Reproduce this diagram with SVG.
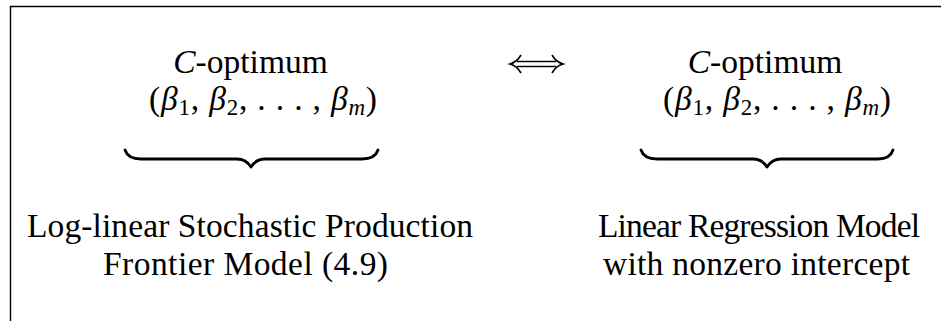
<svg xmlns="http://www.w3.org/2000/svg" width="941" height="321" viewBox="0 0 941 321">
<style>
.t{font-family:'Liberation Serif','DejaVu Serif',serif;font-size:33.5px;fill:#000}
.i{font-style:italic}
.s{font-size:23px}
.br{fill:none;stroke:#000;stroke-width:2.8;stroke-linecap:round;stroke-linejoin:round}
.ar{fill:none;stroke:#000;stroke-width:1.6}
</style>
<rect width="941" height="321" fill="#fff"/>
<path d="M10.5,321 V6.5 H941" fill="none" stroke="#000" stroke-width="1.4"/>
<g id="left-top">
<text class="t" x="250.5" y="73" text-anchor="middle"><tspan class="i">C</tspan>-optimum</text>
<text class="t" x="263" y="110" text-anchor="middle" textLength="228">(<tspan class="i">β</tspan><tspan class="s" dy="5">1</tspan><tspan dy="-5">, </tspan><tspan class="i">β</tspan><tspan class="s" dy="5">2</tspan><tspan dy="-5">, . . . , </tspan><tspan class="i">β</tspan><tspan class="s i" dy="5">m</tspan><tspan dy="-5">)</tspan></text>
</g>
<g id="right-top">
<text class="t" x="765" y="73" text-anchor="middle"><tspan class="i">C</tspan>-optimum</text>
<text class="t" x="777" y="110" text-anchor="middle" textLength="228">(<tspan class="i">β</tspan><tspan class="s" dy="5">1</tspan><tspan dy="-5">, </tspan><tspan class="i">β</tspan><tspan class="s" dy="5">2</tspan><tspan dy="-5">, . . . , </tspan><tspan class="i">β</tspan><tspan class="s i" dy="5">m</tspan><tspan dy="-5">)</tspan></text>
</g>
<g id="left-bottom">
<path class="br" d="M125,150 Q128,159 141,159 H237 Q246,159 251,167 Q256,159 265,159 H362 Q375,159 378,150"/>
<text class="t" x="250" y="237" text-anchor="middle" textLength="446">Log-linear Stochastic Production</text>
<text class="t" x="245.5" y="275" text-anchor="middle" textLength="285">Frontier Model (4.9)</text>
</g>
<g id="right-bottom">
<path class="br" d="M641,150 Q644,159 657,159 H753 Q762,159 767,167 Q772,159 781,159 H878 Q890,159 893,150"/>
<text class="t" x="759" y="237" text-anchor="middle" textLength="322">Linear Regression Model</text>
<text class="t" x="756.5" y="275" text-anchor="middle" textLength="307">with nonzero intercept</text>
</g>
<g id="connectors">
<path class="ar" d="M517,61.5 H556 M517,66.5 H556"/>
<path class="ar" d="M521,55 Q517,62 510,64 Q517,66 521,73"/>
<path class="ar" d="M552,55 Q556,62 563,64 Q556,66 552,73"/>
</g>
</svg>
